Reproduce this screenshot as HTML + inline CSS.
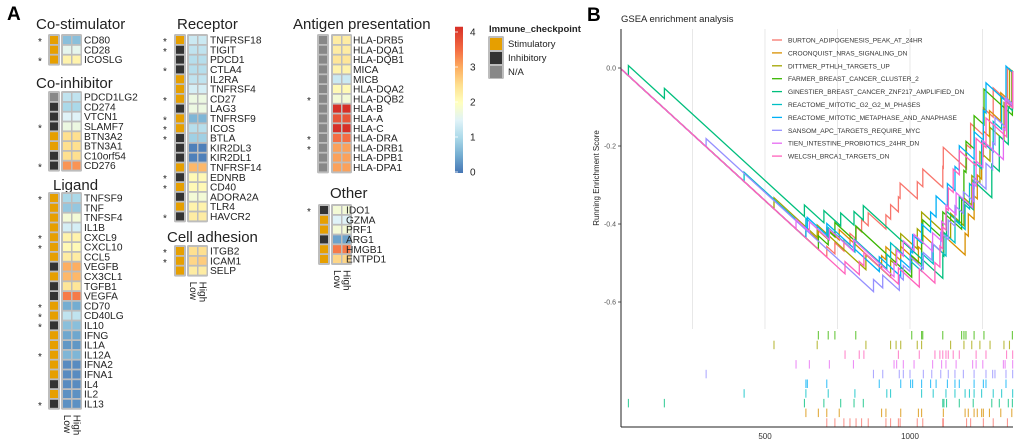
<!DOCTYPE html>
<html><head><meta charset="utf-8"><style>
html,body{margin:0;padding:0;background:#fff;}
svg{display:block;font-family:"Liberation Sans",Arial,sans-serif;}
</style></head><body>
<svg id="fig" width="1020" height="443" viewBox="0 0 1020 443" xmlns="http://www.w3.org/2000/svg">
<defs>
<linearGradient id="cbgrad" x1="0" y1="1" x2="0" y2="0">
<stop offset="0" stop-color="#4575b4"/><stop offset="0.12" stop-color="#74add1"/>
<stop offset="0.24" stop-color="#abd9e9"/><stop offset="0.36" stop-color="#e0f3f8"/>
<stop offset="0.48" stop-color="#ffffbf"/><stop offset="0.6" stop-color="#fee090"/>
<stop offset="0.72" stop-color="#fdae61"/><stop offset="0.84" stop-color="#f46d43"/>
<stop offset="1" stop-color="#d73027"/></linearGradient>
<clipPath id="plotclip"><rect x="621" y="28" width="395" height="300"/></clipPath>
</defs>
<text x="7" y="20" font-size="19" font-weight="bold">A</text>
<text x="587" y="21" font-size="19" font-weight="bold">B</text>
<g id="heat"></g>
<g id="gsea"></g>
</svg>
<script>
// ---------- Heatmap data ----------
const coStimGenes=["CD80","CD28","ICOSLG"];
const coStimTypes=["S","S","S"];
const coStimStars=[1,0,1];
const coStimLow=[0.7,1.6,2.2];
const coStimHigh=[0.7,1.6,2.2];

const coInhGenes=["PDCD1LG2","CD274","VTCN1","SLAMF7","BTN3A2","BTN3A1","C10orf54","CD276"];
const coInhTypes=["N","I","I","I","S","S","I","I"];
const coInhStars=[0,0,0,1,0,0,0,1];
const coInhLow=[1.2,1.0,1.5,1.7,2.5,2.5,2.5,3.2];
const coInhHigh=[1.2,1.0,1.5,1.7,2.5,2.5,2.5,3.2];

const ligandGenes=["TNFSF9","TNF","TNFSF4","IL1B","CXCL9","CXCL10","CCL5","VEGFB","CX3CL1","TGFB1","VEGFA","CD70","CD40LG","IL10","IFNG","IL1A","IL12A","IFNA2","IFNA1","IL4","IL2","IL13"];
const ligandTypes=["S","S","S","S","S","S","S","I","S","I","I","S","S","I","S","S","S","S","S","I","S","I"];
const ligandStars=[1,0,0,0,1,1,0,0,0,0,0,1,1,1,0,0,1,0,0,0,0,1];
const ligandLow=[1.0,0.8,1.8,1.4,2.2,2.1,2.3,3.0,2.9,2.4,3.4,0.5,1.2,0.7,0.45,0.3,0.6,0.2,0.2,0.2,0.25,0.25];
const ligandHigh=[1.0,0.8,1.8,1.4,2.2,2.1,2.3,3.0,2.9,2.4,3.4,0.5,1.2,0.7,0.45,0.3,0.6,0.2,0.2,0.2,0.25,0.25];

const receptorGenes=["TNFRSF18","TIGIT","PDCD1","CTLA4","IL2RA","TNFRSF4","CD27","LAG3","TNFRSF9","ICOS","BTLA","KIR2DL3","KIR2DL1","TNFRSF14","EDNRB","CD40","ADORA2A","TLR4","HAVCR2"];
const receptorTypes=["S","I","I","I","S","S","S","I","S","S","I","I","I","S","I","S","I","S","I"];
const receptorStars=[1,1,0,1,0,0,1,0,1,1,1,0,0,0,1,1,0,0,1];
const receptorLow=[1.3,1.2,1.1,1.1,1.2,1.4,1.7,1.7,0.6,1.1,0.9,0.1,0.1,2.9,2.1,2.1,1.8,2.2,2.3];
const receptorHigh=[1.3,1.2,1.1,1.1,1.2,1.4,1.7,1.7,0.6,1.1,0.9,0.1,0.1,2.9,2.1,2.1,1.8,2.2,2.3];

const adhesionGenes=["ITGB2","ICAM1","SELP"];
const adhesionTypes=["S","S","S"];
const adhesionStars=[1,1,0];
const adhesionLow=[2.5,2.6,2.3];
const adhesionHigh=[2.5,2.7,2.3];

const antigenGenes=["HLA-DRB5","HLA-DQA1","HLA-DQB1","MICA","MICB","HLA-DQA2","HLA-DQB2","HLA-B","HLA-A","HLA-C","HLA-DRA","HLA-DRB1","HLA-DPB1","HLA-DPA1"];
const antigenTypes=["N","N","N","N","N","N","N","N","N","N","N","N","N","N"];
const antigenStars=[0,0,0,0,0,0,1,0,0,0,1,1,0,0];
const antigenLow=[2.3,2.3,2.4,2.2,1.3,2.1,1.8,4.0,3.7,4.0,3.5,3.1,3.1,3.1];
const antigenHigh=[2.3,2.3,2.4,2.2,1.3,2.1,1.8,4.0,3.7,4.0,3.5,3.1,3.1,3.1];

const otherGenes=["IDO1","GZMA","PRF1","ARG1","HMGB1","ENTPD1"];
const otherTypes=["I","S","S","I","S","S"];
const otherStars=[1,0,0,0,0,0];
const otherLow=[1.8,1.5,1.8,0.4,3.4,2.6];
const otherHigh=[1.8,1.5,1.8,0.4,3.4,2.6];

const colorbarTicks=[0,1,2,3,4];

// ---------- GSEA data ----------
const geneSets=["BURTON_ADIPOGENESIS_PEAK_AT_24HR","CROONQUIST_NRAS_SIGNALING_DN","DITTMER_PTHLH_TARGETS_UP","FARMER_BREAST_CANCER_CLUSTER_2","GINESTIER_BREAST_CANCER_ZNF217_AMPLIFIED_DN","REACTOME_MITOTIC_G2_G2_M_PHASES","REACTOME_MITOTIC_METAPHASE_AND_ANAPHASE","SANSOM_APC_TARGETS_REQUIRE_MYC","TIEN_INTESTINE_PROBIOTICS_24HR_DN","WELCSH_BRCA1_TARGETS_DN"];
const setColors=["#F8766D","#D89000","#A3A500","#39B600","#00BF7D","#00BFC4","#00B0F6","#9590FF","#E76BF3","#FF62BC"];
const hitsBurton=[713,741,772,793,814,833,856,917,933,960,966,1025,1044,1113,1115,1195,1209,1253,1287,1336];
const hitsCroonquist=[641,684,713,756,902,917,968,1029,1040,1115,1190,1201,1221,1232,1247,1253,1274,1313,1351];
const hitsDittmer=[531,680,848,933,952,968,1025,1040,1140,1186,1213,1241,1276,1324,1343];
const hitsFarmer=[684,718,741,813,1006,1040,1044,1113,1178,1186,1193,1221,1255,1353];
const hitsGinestier=[29,153,636,703,761,807,839,1113,1117,1126,1170,1218,1282,1308,1339,1353];
const hitsG2M=[428,641,718,810,920,933,1040,1080,1124,1155,1190,1205,1221,1247,1287,1316,1354];
const hitsMetaphase=[641,646,713,894,968,1002,1009,1040,1071,1090,1129,1155,1170,1221,1253,1262,1331];
const hitsSansom=[297,874,906,963,977,1000,1046,1075,1106,1132,1155,1184,1221,1262,1285,1293,1331,1354];
const hitsTien=[607,653,722,805,945,954,977,1014,1078,1109,1124,1159,1216,1228,1251,1322,1328,1354];
const hitsWelcsh=[776,825,841,960,1032,1086,1103,1113,1124,1132,1149,1170,1228,1262,1333,1354];
const allHits=[hitsBurton,hitsCroonquist,hitsDittmer,hitsFarmer,hitsGinestier,hitsG2M,hitsMetaphase,hitsSansom,hitsTien,hitsWelcsh];
const rugOrder=[3,2,9,8,7,6,5,4,1,0];
const xTicks=[500,1000];
const xGrid=[250,500,750,1000,1250];
const yTicks=[0,-0.2,-0.4,-0.6];
const yTickLabels=["0.0","-0.2","-0.4","-0.6"];
const totalGenes=1355;
const missPenalty=0.00068;
const hitWeightFloor=0.35;
const hitWeightPower=4;

const NS="http://www.w3.org/2000/svg";
function mk(tag,attrs,parent,txt){const e=document.createElementNS(NS,tag);for(const k in attrs)e.setAttribute(k,attrs[k]);if(txt!==undefined)e.textContent=txt;parent.appendChild(e);return e;}

const cStops=[[0,"#4575b4"],[0.5,"#74add1"],[1,"#abd9e9"],[1.5,"#e0f3f8"],[2,"#ffffbf"],[2.5,"#fee090"],[3,"#fdae61"],[3.5,"#f46d43"],[4,"#d73027"]];
function hex2(h){return [1,3,5].map(i=>parseInt(h.substr(i,2),16));}
function colorOf(v){v=Math.max(0,Math.min(4,v));for(let i=0;i<cStops.length-1;i++){const a=cStops[i],b=cStops[i+1];if(v<=b[0]){const t=(v-a[0])/(b[0]-a[0]);const ca=hex2(a[1]),cb=hex2(b[1]);return "rgb("+ca.map((c,k)=>Math.round(c+(cb[k]-c)*t)).join(",")+")";}}return cStops[cStops.length-1][1];}
const typeColor={S:"#E69F00",I:"#333333",N:"#888888"};
const pitch=9.8;

const heat=document.getElementById("heat");
function drawGroup(name,title,titleX,titleY,genes,types,stars,low,high,g){
  const grp=mk("g",{},heat);
  
  
  const t=mk("text",{x:titleX,y:titleY,"font-size":15,fill:"#222"},grp,title);
  
  
  const n=genes.length, top=g.y0-4-2, h=(n-1)*pitch+8+4;
  const b1=mk("rect",{x:g.tx-2,y:top,width:12,height:h,rx:1.5,fill:"#bdbdbd"},grp);
  
  
  const b2=mk("rect",{x:g.lx-2,y:top,width:21,height:h,rx:1.5,fill:"#bdbdbd"},grp);
  
  
  genes.forEach((gn,i)=>{
    const cy=g.y0+i*pitch;
    const tc=mk("rect",{x:g.tx,y:cy-4,width:8,height:8,fill:typeColor[types[i]]},grp);
    
    
    const lc=mk("rect",{x:g.lx,y:cy-4,width:8,height:8,fill:colorOf(low[i])},grp);
    
    
    const hc=mk("rect",{x:g.lx+9.5,y:cy-4,width:8,height:8,fill:colorOf(high[i])},grp);
    
    
    const lb=mk("text",{x:g.lab,y:cy+3.6,"font-size":10.2,fill:"#222"},grp,gn);
    
    
    if(stars[i]){const s=mk("text",{x:g.sx,y:cy+5,"font-size":10,fill:"#222","text-anchor":"middle"},grp,"*");
      
      }
  });
  if(g.ll){
    const y=g.y0+(n-1)*pitch+11;
    [["Low",g.lx+1],["High",g.lx+10.5]].forEach(([w,x])=>{
      const tt=mk("text",{x:0,y:0,"font-size":10,fill:"#222",transform:"translate("+x+","+y+") rotate(90)"},grp,w);
      
      
    });
  }
}
drawGroup("co-stimulator","Co-stimulator",36,29,coStimGenes,coStimTypes,coStimStars,coStimLow,coStimHigh,{y0:40,tx:50,lx:63,lab:84,sx:40});
drawGroup("co-inhibitor","Co-inhibitor",36,88,coInhGenes,coInhTypes,coInhStars,coInhLow,coInhHigh,{y0:97,tx:50,lx:63,lab:84,sx:40});
drawGroup("ligand","Ligand",53,190,ligandGenes,ligandTypes,ligandStars,ligandLow,ligandHigh,{y0:198,tx:50,lx:63,lab:84,sx:40,ll:1});
drawGroup("receptor","Receptor",177,29,receptorGenes,receptorTypes,receptorStars,receptorLow,receptorHigh,{y0:40,tx:176,lx:189,lab:210,sx:165});
drawGroup("cell-adhesion","Cell adhesion",167,242,adhesionGenes,adhesionTypes,adhesionStars,adhesionLow,adhesionHigh,{y0:251,tx:176,lx:189,lab:210,sx:165,ll:1});
drawGroup("antigen-presentation","Antigen presentation",293,29,antigenGenes,antigenTypes,antigenStars,antigenLow,antigenHigh,{y0:40,tx:319,lx:333,lab:353,sx:309});
drawGroup("other","Other",330,198,otherGenes,otherTypes,otherStars,otherLow,otherHigh,{y0:210,tx:320,lx:333,lab:346,sx:309,ll:1});

const cbY=v=>172-35*v;
const cb=mk("rect",{x:455,y:cbY(4.15),width:8,height:cbY(0)-cbY(4.15)+1,fill:"url(#cbgrad)"},heat);


colorbarTicks.forEach(v=>{
  const tk=mk("line",{x1:455,x2:458,y1:cbY(v),y2:cbY(v),stroke:"#fff","stroke-width":0.8},heat);
  
  
  const tl=mk("text",{x:470,y:cbY(v)+3.5,"font-size":10,fill:"#222"},heat,String(v));
  
  
});
const lt=mk("text",{x:489,y:32,"font-size":9.5,"font-weight":"bold",fill:"#222"},heat,"Immune_checkpoint");


const lbg=mk("rect",{x:488,y:36,width:16,height:43,fill:"#bdbdbd",rx:1.5},heat);


[["Stimulatory","#E69F00"],["Inhibitory","#333333"],["N/A","#888888"]].forEach(([w,c],i)=>{
  const y=37+i*14;
  const k=mk("rect",{x:490,y:y+1,width:12,height:12,fill:c},heat);
  
  
  const tx=mk("text",{x:508,y:y+10,"font-size":9.5,fill:"#222"},heat,w);
  
  
});

// ---------- GSEA panel ----------
const gs=document.getElementById("gsea");
const X=r=>620+r*0.29;
const Y=v=>68-390*v;
const title=mk("text",{x:621,y:22,"font-size":9.5,fill:"#222"},gs,"GSEA enrichment analysis");


xGrid.forEach(r=>{
  const l=mk("line",{x1:X(r),x2:X(r),y1:29,y2:329,stroke:"#e2e2e2","stroke-width":0.8},gs);
  
  
});
const ylab=mk("text",{x:0,y:0,"font-size":8,fill:"#222","text-anchor":"middle",transform:"translate(599,178) rotate(-90)"},gs,"Running Enrichment Score");


yTicks.forEach((v,i)=>{
  const t=mk("text",{x:616,y:Y(v)+2.5,"font-size":7,fill:"#555","text-anchor":"end"},gs,yTickLabels[i]);
  
  
  const tk=mk("line",{x1:618,x2:621,y1:Y(v),y2:Y(v),stroke:"#333","stroke-width":0.8},gs);
  
  
});
xTicks.forEach(v=>{
  const t=mk("text",{x:X(v),y:439,"font-size":8,fill:"#333","text-anchor":"middle"},gs,String(v));
  
  
});
const lines=mk("g",{"clip-path":"url(#plotclip)"},gs);


allHits.forEach((hits,si)=>{
  const nh=hits.length;
  const w=hits.map(h=>hitWeightFloor+Math.pow(h/totalGenes,hitWeightPower));
  const wsum=w.reduce((a,b)=>a+b,0);
  const total=missPenalty*(totalGenes-nh);
  let es=0, prev=0, pts=[[0,0]];
  hits.forEach((h,k)=>{es-=missPenalty*(h-prev);pts.push([h,es]);es+=total*w[k]/wsum;pts.push([h,es]);prev=h;});
  es-=missPenalty*(totalGenes-prev);pts.push([totalGenes,es]);
  const p=mk("polyline",{points:pts.map(q=>X(q[0]).toFixed(1)+","+Y(q[1]).toFixed(1)).join(" "),fill:"none",stroke:setColors[si],"stroke-width":1.3},lines);
  
  
});
rugOrder.forEach((si,row)=>{
  const y0=331+row*9.7;
  allHits[si].forEach(h=>{
    const r=mk("line",{x1:X(h),x2:X(h),y1:y0,y2:y0+8.5,stroke:setColors[si],"stroke-width":1.1,opacity:0.75},gs);
    
    
  });
});
const ya=mk("line",{x1:621,x2:621,y1:29,y2:427,stroke:"#222","stroke-width":1},gs);


const xa=mk("line",{x1:621,x2:1013,y1:427,y2:427,stroke:"#222","stroke-width":1},gs);


geneSets.forEach((n,i)=>{
  const y=40+i*12.9;
  const l=mk("line",{x1:772,x2:782,y1:y,y2:y,stroke:setColors[i],"stroke-width":1.3},gs);
  
  
  const t=mk("text",{x:788,y:y+2.5,"font-size":6.6,fill:"#333"},gs,n);
  
  
});
</script>
</body></html>
